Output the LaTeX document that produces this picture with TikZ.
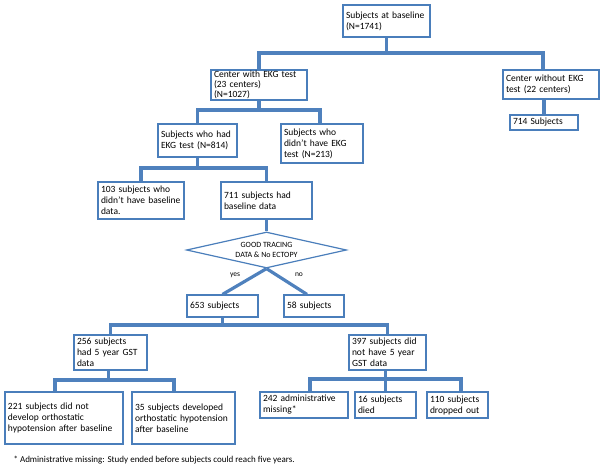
\documentclass[tikz,border=0pt]{standalone}
\usepackage{fontspec}
\setmainfont{Carlito}
\usetikzlibrary{shapes.geometric}
\definecolor{boxblue}{RGB}{74,126,187}
\definecolor{linkblue}{RGB}{79,129,189}
\begin{document}
\begin{tikzpicture}[x=1pt, y=-1pt,
        every node/.style = {font=\fontsize{9.5}{11}\selectfont},
        box/.style = {shape=rectangle, draw=boxblue, line width=1.2pt,
            align=left, inner xsep=3pt, inner ysep=1pt},
        check/.style = {shape=diamond, draw=boxblue, line width=1.2pt,
            aspect=4.4, minimum width=160pt, minimum height=36pt,
            inner sep=0pt, align=center, font=\fontsize{8}{10}\selectfont},
        lbl/.style = {font=\fontsize{7.5}{9}\selectfont, inner sep=1pt},
        link/.style = {draw=linkblue, line width=3.2pt}]
    \useasboundingbox (0,0) rectangle (604,468);
    % boxes
    \node[box, text width=81pt, minimum height=32pt] (base) at (386.5,21) {Subjects at baseline\\(N=1741)};
    \node[box, text width=90pt, minimum height=30pt, font=\fontsize{9.5}{9.8}\selectfont] (withekg) at (259,85) {Center with EKG test\\(23 centers)\\(N=1027)};
    \node[box, text width=90pt, minimum height=29pt] (withoutekg) at (551,84.5) {Center without EKG\\test (22 centers)};
    \node[box, text width=62pt, minimum height=15pt] (s714) at (544,122.5) {714 Subjects};
    \node[box, text width=73pt, minimum height=33pt] (hadekg) at (197.5,140.5) {Subjects who had\\EKG test (N=814)};
    \node[box, text width=76pt, minimum height=39pt] (noekg) at (322,143.5) {Subjects who\\didn’t have EKG\\test (N=213)};
    \node[box, text width=80pt, minimum height=37pt] (nobase) at (141,200.5) {103 subjects who\\didn’t have baseline\\data.};
    \node[box, text width=85pt, minimum height=37pt] (hadbase) at (266.5,200.5) {711 subjects had\\baseline data};
    \node[check] (tracing) at (266.5,250) {GOOD TRACING\\DATA \& No ECTOPY};
    \node[box, text width=65pt, minimum height=22pt] (s653) at (222.5,306) {653 subjects};
    \node[box, text width=54pt, minimum height=22pt] (s58) at (314,306) {58 subjects};
    \node[box, text width=67pt, minimum height=35pt] (gst) at (110.5,352.5) {256 subjects\\had 5 year GST\\data};
    \node[box, text width=71pt, minimum height=35pt] (nogst) at (387.5,352.5) {397 subjects did\\not have 5 year\\GST data};
    \node[box, text width=112pt, minimum height=52pt] (noOH) at (64,418) {221 subjects did not\\develop orthostatic\\hypotension after baseline};
    \node[box, text width=97pt, minimum height=52pt] (OH) at (183.5,418) {35 subjects developed\\orthostatic hypotension\\after baseline};
    \node[box, text width=82pt, minimum height=26pt] (admin) at (304,405) {242 administrative\\missing*};
    \node[box, text width=55pt, minimum height=26pt] (died) at (385.5,405) {16 subjects\\died};
    \node[box, text width=55pt, minimum height=26pt] (dropped) at (457.5,405) {110 subjects\\dropped out};
    \node[anchor=west, font=\fontsize{9}{10}\selectfont] (note) at (10,460) {* Administrative missing: Study ended before subjects could reach five years.};
    % connectors
    \coordinate (b1) at (386.5,53);
    \draw[link] (base) -- (b1);
    \draw[link] (withekg.north) |- (b1) -| ([xshift=-8pt]withoutekg.north);
    \draw[link] (withoutekg.south -| s714.north) -- (s714.north);
    \coordinate (b2) at (259,110);
    \draw[link] (withekg) -- (b2);
    \draw[link] (hadekg.north) |- (b2) -| ([xshift=-2pt]noekg.north);
    \coordinate (b3) at (197.5,168);
    \draw[link] (hadekg) -- (b3);
    \draw[link] (nobase.north) |- (b3) -| (hadbase.north);
    \draw[link] (hadbase) -- (tracing);
    \draw[link] (tracing.south) -- (s653.north);
    \draw[link] (tracing.south) -- ([xshift=-7pt]s58.north);
    \node[lbl] (yes) at (235,275) {yes};
    \node[lbl] (no) at (299,275) {no};
    \coordinate (b4) at (222.5,325);
    \draw[link] (s653) -- (b4);
    \draw[link] (gst.north) |- (b4) -| (nogst.north);
    \coordinate (b5) at (108.5,380);
    \draw[link] (gst.south -| b5) -- (b5);
    \draw[link] ([xshift=-9pt]noOH.north) |- (b5) -| ([xshift=-9.5pt]OH.north);
    \coordinate (b6) at (385.5,379);
    \draw[link] (nogst.south -| b6) -- (b6);
    \draw[link] ([xshift=6pt]admin.north) |- (b6) -| ([xshift=3.5pt]dropped.north);
    \draw[link] (b6) -- (died.north);
\end{tikzpicture}
\end{document}
